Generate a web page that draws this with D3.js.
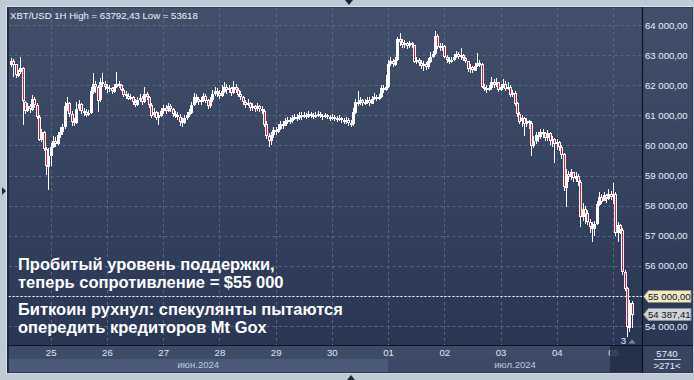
<!DOCTYPE html>
<html>
<head>
<meta charset="utf-8">
<script src="https://cdn.jsdelivr.net/npm/d3@7"></script>
<style>
  html, body { margin: 0; padding: 0; background: #bfcad7; }
  svg { display: block; font-family: "Liberation Sans", Arial, sans-serif; }
</style>
</head>
<body>
<svg id="chart" width="694" height="380"></svg>
<script>
// XBT/USD hourly candles, 24 Jun 07:00 UTC → 5 Jul 08:00 UTC
const startHour = "2024-06-24T07:00:00Z";
const firstOpen = 62700;

const closes = [
  62820, 62700, 62330, 62420, 62560, 61450, 61150, 61300, 61200, 61550,
  61350, 60950, 60200, 60450, 59880, 59300, 59650, 59950, 60150, 60050,
  60350, 60450, 60600, 61300, 61420, 61050, 60800, 60750, 61200, 61380,
  61150, 61100, 61000, 61080, 61800, 62050, 61950, 61500, 62100, 62050,
  61950, 61880, 61900, 61800, 61950, 62050, 62000, 61850, 61700, 61650,
  61550, 61600, 61450, 61350, 61500, 61580, 61450, 61700, 61600, 61350,
  61000, 61100, 60900, 61000, 61150, 61250, 61150, 61300, 61200, 61050,
  61000, 60950, 60800, 60750, 60900, 61000, 61100, 61350, 61600, 61550,
  61450, 61500, 61650, 61500, 61300, 61500, 61700, 61800, 61750, 61650,
  61800, 61950, 61850, 61900, 61750, 61950, 61850, 61700, 61600, 61450,
  61350, 61400, 61250, 61300, 61200, 61300, 61200, 61150, 60700, 60300,
  60150, 60350, 60500, 60450, 60550, 60700, 60650, 60800, 60850, 60800,
  60900, 60950, 60900, 61000, 60950, 61000, 60950, 61050, 61000, 60950,
  61000, 61050, 60980, 60950, 61000, 60950, 60900, 60950, 60900, 60850,
  60900, 60850, 60800, 60850, 60750, 60700, 61100, 61450, 61400, 61500,
  61400, 61450, 61500, 61400, 61550, 61600, 61550, 61600, 61900, 61850,
  61950, 62700, 62800, 62700, 62850, 63550, 63450, 63350, 63400, 63300,
  63400, 63350, 62800, 62850, 62750, 62650, 62700, 62600, 62800, 62950,
  63050, 63650, 63300, 63250, 63300, 62950, 62850, 62800, 62850, 62950,
  63050, 62950, 63000, 62900, 62800, 62550, 62600, 62500, 62650, 62750,
  62700, 61950, 61900, 61850, 61900, 62100, 62000, 62100, 61850, 61950,
  62050, 61900, 61950, 61700, 61750, 61400, 61050, 60800, 60900, 60700,
  60800, 60750, 60000, 60150, 60350, 60300, 60450, 60400, 60250, 60400,
  60150, 60200, 60050, 60100, 59950, 59700, 58600, 59050, 58950, 59100,
  58900, 59000, 58800, 57650, 57900, 57750, 57450, 57300, 57250, 57400,
  58050, 58300, 58150, 58350, 58250, 58400, 58300, 58400, 57100, 57350,
  57200, 55800, 55250, 53950, 54780, 54387.41
];

const highs = [
  62900, 62860, 62720, 62520, 62940, 62600, 61480, 61420, 61380, 61680,
  61620, 61400, 61000, 60550, 60480, 59950, 59900, 60080, 60300, 60280,
  60450, 60620, 60700, 61450, 61600, 61450, 61150, 60900, 61450, 61500,
  61400, 61250, 61200, 61180, 61950, 62400, 62150, 62000, 62250, 62400,
  62150, 62050, 62000, 61950, 62050, 62430, 62150, 62050, 61900, 61800,
  61750, 61700, 61650, 61550, 61600, 61700, 61650, 61950, 61780, 61650,
  61400, 61250, 61150, 61100, 61250, 61350, 61350, 61400, 61380, 61250,
  61150, 61100, 61050, 60900, 61000, 61100, 61200, 61450, 61750, 61700,
  61620, 61600, 61750, 61700, 61550, 61600, 61850, 61950, 61900, 61850,
  62000, 62100, 62050, 62000, 61950, 62150, 62050, 61900, 61800, 61650,
  61500, 61550, 61450, 61400, 61350, 61400, 61350, 61300, 61200, 60800,
  60400, 60450, 60600, 60600, 60700, 60800, 60800, 60900, 60950, 60950,
  61000, 61050, 61050, 61100, 61100, 61100, 61080, 61150, 61120, 61080,
  61100, 61150, 61100, 61050, 61080, 61050, 61020, 61050, 61000, 60980,
  61000, 60950, 60920, 60950, 60900, 60850, 61250, 61550, 61800, 61600,
  61550, 61550, 61600, 61600, 61650, 61740, 61680, 61700, 62000, 62000,
  62340, 62850, 62950, 62880, 62950, 63600, 63730, 63550, 63500, 63450,
  63480, 63450, 63350, 62950, 62900, 62850, 62800, 62780, 62900, 63100,
  63150, 63792.43, 63700, 63400, 63400, 63350, 63000, 62950, 62950, 63050,
  63150, 63100, 63240, 63050, 62950, 62800, 62700, 62650, 62750, 63070,
  62850, 62750, 62050, 62000, 62000, 62270, 62200, 62250, 62100, 62050,
  62200, 62150, 62100, 62000, 61850, 61800, 61450, 61100, 61000, 60950,
  60900, 60850, 60800, 60300, 60450, 60450, 60550, 60550, 60450, 60500,
  60450, 60300, 60250, 60200, 60150, 60000, 59750, 59200, 59150, 59200,
  59100, 59100, 59050, 58850, 58090, 58000, 57850, 57550, 57450, 57500,
  58150, 58450, 58400, 58450, 58400, 58550, 58500, 58750, 58450, 57450,
  57400, 57250, 55850, 55300, 54850, 54820
];

const lows = [
  62620, 62280, 62250, 62280, 62380, 60680, 61050, 61100, 61080, 61150,
  61250, 60880, 60150, 60100, 59800, 59020, 58520, 59300, 59900, 59950,
  60000, 60250, 60350, 60550, 61150, 60950, 60650, 60650, 60700, 61150,
  61050, 60980, 60950, 60980, 61050, 61700, 61750, 61100, 61450, 61950,
  61850, 61750, 61780, 61720, 61750, 61900, 61900, 61800, 61600, 61550,
  61500, 61500, 61350, 61280, 61300, 61450, 61350, 61400, 61500, 61250,
  60900, 60950, 60850, 60680, 60950, 61050, 61050, 61100, 61120, 60950,
  60900, 60850, 60650, 60600, 60700, 60850, 60950, 61050, 61300, 61400,
  61350, 61350, 61450, 61400, 61200, 61250, 61450, 61650, 61600, 61550,
  61600, 61750, 61700, 61750, 61650, 61700, 61750, 61600, 61500, 61350,
  61250, 61300, 61150, 61150, 61100, 61150, 61100, 61050, 60600, 60200,
  59950, 60000, 60250, 60350, 60400, 60500, 60550, 60650, 60700, 60700,
  60750, 60850, 60800, 60850, 60850, 60900, 60880, 60900, 60920, 60880,
  60900, 60950, 60900, 60850, 60900, 60880, 60820, 60850, 60800, 60780,
  60800, 60750, 60700, 60700, 60650, 60620, 60650, 61050, 61300, 61350,
  61300, 61350, 61380, 61300, 61380, 61500, 61480, 61500, 61580, 61750,
  61800, 61900, 62650, 62600, 62650, 62800, 63300, 63250, 63250, 63200,
  63250, 63250, 62750, 62700, 62650, 62550, 62470, 62500, 62550, 62750,
  62900, 63000, 63200, 63150, 63150, 62900, 62730, 62700, 62750, 62800,
  62900, 62880, 62850, 62800, 62750, 62450, 62400, 62420, 62480, 62600,
  62600, 61900, 61800, 61740, 61800, 61850, 61900, 61950, 61780, 61800,
  61900, 61800, 61850, 61600, 61600, 61300, 60950, 60700, 60600, 60300,
  60600, 60550, 59650, 59900, 60050, 60100, 60200, 60250, 60150, 60150,
  60000, 59950, 59400, 59850, 59800, 59550, 58500, 57950, 58800, 58850,
  58800, 58800, 58650, 57300, 57500, 57400, 57350, 57100, 56790, 57000,
  57350, 58000, 58050, 58150, 58100, 58200, 58200, 58050, 57000, 56800,
  57050, 55700, 55150, 53618, 53800, 53950
];

const priceTicks = [54000, 55000, 56000, 57000, 58000, 59000, 60000, 61000, 62000, 63000, 64000];
const supportLevel = 55000;
const months = [
  { from: "2024-06-01T00:00:00Z", to: "2024-07-01T00:00:00Z", label: "июн.2024" },
  { from: "2024-07-01T00:00:00Z", to: "2024-08-01T00:00:00Z", label: "июл.2024" }
];
const noteLines = ["Пробитый уровень поддержки,", "теперь сопротивление = $55 000"];
const headLines = ["Биткоин рухнул: спекулянты пытаются", "опередить кредиторов Mt Gox"];
const volumeText = "5740";
const barsText = ">271<";
const markerText = "3";

// ---- layout ----
const W = 694, H = 380;
const plot = { left: 8.5, right: 642, top: 8, bottom: 345 };
const axisR = { left: 643, right: 692 };
const axisB = { top: 346, mid: 359, bottom: 372 };

const svg = d3.select("#chart");
const ru = d3.formatLocale({ decimal: ",", thousands: " ", grouping: [3], currency: ["", ""] });
const fmtPrice = ru.format(",.2f");
const fmtPlain = ru.format(".2f");

const t0 = new Date(startHour);
const candles = closes.map((c, i) => ({
  t: d3.utcHour.offset(t0, i),
  o: i === 0 ? firstOpen : closes[i - 1],
  c, h: highs[i], l: lows[i]
}));

const x = d3.scaleUtc()
  .domain([new Date("2024-06-25T00:00:00Z"), new Date("2024-07-05T00:00:00Z")])
  .range([50.7, 613]);
const y = d3.scaleLinear().domain([54000, 64000]).range([326, 25]);

// ---- background & frame ----
const defs = svg.append("defs");
const grad = defs.append("linearGradient").attr("id", "bg").attr("x1", 0).attr("y1", 0).attr("x2", 0).attr("y2", 1);
grad.append("stop").attr("offset", "0%").attr("stop-color", "#424f6b");
grad.append("stop").attr("offset", "100%").attr("stop-color", "#2a3754");
defs.append("clipPath").attr("id", "plotClip").append("rect")
  .attr("x", plot.left).attr("y", plot.top)
  .attr("width", plot.right - plot.left).attr("height", plot.bottom - plot.top);

svg.append("rect").attr("width", W).attr("height", H).attr("fill", "#bfcad7");
svg.append("rect").attr("x", 6.5).attr("y", 6.5).attr("width", 686).attr("height", 366.5)
  .attr("fill", "none").attr("stroke", "#dde4ec");
svg.append("rect").attr("x", 7).attr("y", 7).attr("width", 686).attr("height", 366).attr("fill", "#2f3c58");
svg.append("rect").attr("x", plot.left).attr("y", plot.top)
  .attr("width", plot.right - plot.left).attr("height", plot.bottom - plot.top).attr("fill", "url(#bg)");
svg.append("rect").attr("x", axisR.left).attr("y", plot.top)
  .attr("width", axisR.right - axisR.left).attr("height", plot.bottom - plot.top).attr("fill", "url(#bg)");

// time-axis bands
svg.append("rect").attr("x", plot.left).attr("y", axisB.top)
  .attr("width", plot.right - plot.left).attr("height", axisB.mid - axisB.top).attr("fill", "#3d4b67");
months.forEach((m, k) => {
  const a = Math.max(plot.left, x(new Date(m.from)));
  const b = Math.min(plot.right, x(new Date(m.to)));
  if (b <= a) return;
  svg.append("rect").attr("x", a).attr("y", axisB.mid).attr("width", b - a)
    .attr("height", axisB.bottom - axisB.mid).attr("fill", k === 0 ? "#4a5a78" : "#3b4966");
  svg.append("text").attr("x", (a + b) / 2).attr("y", 367.5).attr("text-anchor", "middle")
    .attr("font-size", 9.5).attr("fill", "#bccae0").text(m.label);
});
svg.append("rect").attr("x", axisR.left).attr("y", axisB.top)
  .attr("width", axisR.right - axisR.left).attr("height", axisB.bottom - axisB.top).attr("fill", "#36445f");

// ---- grid ----
const grid = svg.append("g").attr("stroke", "#5a6885").attr("stroke-dasharray", "3,3").attr("stroke-width", 1);
grid.selectAll("line.h").data(priceTicks).join("line")
  .attr("x1", plot.left).attr("x2", plot.right)
  .attr("y1", d => Math.round(y(d)) + 0.5).attr("y2", d => Math.round(y(d)) + 0.5);
const days = x.ticks(d3.utcDay.every(1));
grid.selectAll("line.v").data(days).join("line")
  .attr("y1", plot.top).attr("y2", plot.bottom)
  .attr("x1", d => Math.round(x(d)) + 0.5).attr("x2", d => Math.round(x(d)) + 0.5);

// ---- candles ----
const cg = svg.append("g").attr("clip-path", "url(#plotClip)").attr("shape-rendering", "crispEdges");
const cx = d => Math.round(x(d.t));
cg.selectAll("line.wick").data(candles).join("line")
  .attr("x1", d => cx(d) + 0.5).attr("x2", d => cx(d) + 0.5)
  .attr("y1", d => y(d.h)).attr("y2", d => y(d.l))
  .attr("stroke", "#ffffff").attr("stroke-width", 1);
const bodyTop = d => Math.round(y(Math.max(d.o, d.c)));
const bodyH = d => Math.max(1, Math.round(Math.abs(y(d.o) - y(d.c))));
cg.selectAll("rect.body").data(candles).join("rect")
  .attr("x", d => cx(d) - 1).attr("width", 3)
  .attr("y", bodyTop).attr("height", bodyH)
  .attr("fill", "#ffffff");
cg.selectAll("rect.down").data(candles.filter(d => d.c < d.o && bodyH(d) > 2)).join("rect")
  .attr("x", d => cx(d)).attr("width", 1)
  .attr("y", d => bodyTop(d) + 1).attr("height", d => bodyH(d) - 2)
  .attr("fill", "#e3173e");

// support / resistance line
svg.append("line")
  .attr("x1", plot.left).attr("x2", plot.right)
  .attr("y1", Math.round(y(supportLevel)) + 0.5).attr("y2", Math.round(y(supportLevel)) + 0.5)
  .attr("stroke", "#ffffff").attr("stroke-dasharray", "2,2").attr("stroke-width", 1);

// ---- annotation text ----
const ann = svg.append("g").attr("font-size", 16.5).attr("font-weight", "bold").attr("fill", "#ffffff");
noteLines.forEach((s, i) => ann.append("text").attr("x", 18).attr("y", 269.5 + i * 18.7).text(s));
headLines.forEach((s, i) => ann.append("text").attr("x", 18).attr("y", 314.5 + i * 18.7).text(s));

// header
svg.append("text").attr("x", 10).attr("y", 18.5).attr("font-size", 9.6).attr("fill", "#eef3fa")
  .text(`XBT/USD 1H High = ${fmtPlain(d3.max(highs))} Low = ${d3.min(lows)}`);

// ---- axes ----
// the support level carries its own tag, so its plain tick label is left out
const yAxis = svg.append("g").attr("transform", `translate(${plot.right},0)`)
  .call(d3.axisRight(y).tickValues(priceTicks.filter(v => v !== supportLevel))
    .tickSize(0).tickPadding(3).tickFormat(fmtPrice));
yAxis.select(".domain").remove();
yAxis.selectAll("text").attr("font-size", 9.6).attr("fill", "#e6eefc")
  .attr("font-family", "\"Liberation Sans\", Arial, sans-serif");

const xAxis = svg.append("g").attr("transform", `translate(0,${plot.bottom})`)
  .call(d3.axisBottom(x).ticks(d3.utcDay.every(1)).tickFormat(d3.utcFormat("%d")).tickSize(0).tickPadding(4.5));
xAxis.select(".domain").remove();
xAxis.selectAll("text").attr("font-size", 9.6).attr("fill", "#dfe8f6")
  .attr("font-family", "\"Liberation Sans\", Arial, sans-serif");

// current-day highlight on the time axis
svg.append("rect").attr("x", 610).attr("y", axisB.top).attr("width", plot.right - 610)
  .attr("height", axisB.bottom - axisB.top).attr("fill", "#1f2a42").attr("opacity", 0.78);

// bottom-right info cell
svg.append("text").attr("x", 667).attr("y", 357).attr("text-anchor", "middle")
  .attr("font-size", 9.6).attr("fill", "#e6eefc").text(volumeText);
svg.append("line").attr("x1", 654).attr("x2", 681).attr("y1", 359.5).attr("y2", 359.5)
  .attr("stroke", "#c8d2e2").attr("stroke-width", 1);
svg.append("text").attr("x", 667).attr("y", 369).attr("text-anchor", "middle")
  .attr("font-size", 9.6).attr("fill", "#e6eefc").text(barsText);

// frame lines
svg.append("line").attr("x1", plot.right + 0.5).attr("x2", plot.right + 0.5).attr("y1", 7).attr("y2", 373)
  .attr("stroke", "#0c1220").attr("stroke-width", 1.2);
svg.append("line").attr("x1", 7).attr("x2", 693).attr("y1", plot.bottom + 0.5).attr("y2", plot.bottom + 0.5)
  .attr("stroke", "#0c1220").attr("stroke-width", 1.2);
svg.append("line").attr("x1", 8).attr("x2", 8).attr("y1", 7).attr("y2", 373)
  .attr("stroke", "#0c1220").attr("stroke-width", 1);

// price tags on the right axis
function tag(value, label, fill, stroke) {
  const yc = Math.round(y(value)) + 0.5, x0 = axisR.left + 0.5, x1 = axisR.right - 1;
  svg.append("path")
    .attr("d", `M${x0},${yc} L${x0 + 5},${yc - 6} L${x1},${yc - 6} L${x1},${yc + 6} L${x0 + 5},${yc + 6} Z`)
    .attr("fill", fill).attr("stroke", stroke).attr("stroke-width", 1);
  svg.append("text").attr("x", x0 + 4.5).attr("y", yc + 3.5).attr("font-size", 9.6)
    .attr("fill", "#111111").text(label);
}
tag(supportLevel, fmtPrice(supportLevel), "#ece8c9", "#8f8d72");
const last = closes[closes.length - 1];
tag(last, fmtPrice(last), "#cfd3da", "#8c919a");

// bar-count marker near the last candle
svg.append("text").attr("x", 623.5).attr("y", 343.5).attr("text-anchor", "middle")
  .attr("font-size", 9.6).attr("fill", "#e6eefc").text(markerText);
svg.append("path").attr("d", "M628.5,343.5 L632,339.5 L635.5,343.5 Z").attr("fill", "#7d8898");

// scroll markers on the frame
svg.append("path").attr("d", "M345,0 L353,0 L349,5 Z").attr("fill", "#1c283c");
svg.append("path").attr("d", "M347,380 L355,380 L351,375 Z").attr("fill", "#1c283c");
svg.append("path").attr("d", "M2,187 L2,195 L6,191 Z").attr("fill", "#1c283c");
</script>
</body>
</html>
